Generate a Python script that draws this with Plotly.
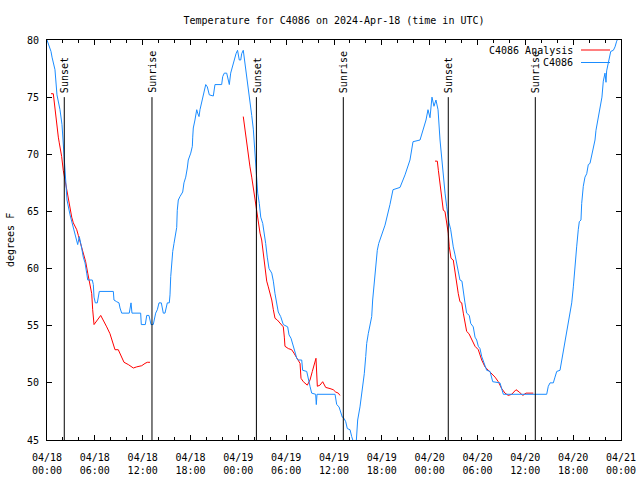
import pandas as pd
import plotly.graph_objects as go

# ---------------- data (hours after 2024-04-18 00:00 UTC, degrees F) ----------------
base_time = "2024-04-18 00:00"

obs_hours = [0.00, 0.25, 0.50, 0.63, 1.00, 1.25, 1.63, 1.88, 2.13, 2.38, 2.51, 2.89, 3.39, 3.85, 4.05, 4.14,
             4.35, 4.55, 4.77, 4.98, 5.11, 5.68, 5.81, 5.90, 6.06, 6.31, 6.49, 6.56, 8.32, 8.40, 8.74, 9.03,
             9.16, 9.37, 10.32, 10.41, 10.54, 10.66, 11.75, 11.83, 12.33, 12.51, 12.79, 12.92, 13.05, 13.33,
             13.46, 13.63, 13.84, 14.05, 14.34, 14.46, 14.59, 14.80, 15.01, 15.09, 15.34, 15.43, 15.52, 15.64,
             15.77, 15.93, 16.06, 16.27, 16.34, 16.47, 16.68, 17.02, 17.18, 17.40, 17.60, 17.72, 18.03, 18.23,
             18.28, 18.35, 18.56, 18.78, 18.90, 19.07, 19.19, 19.40, 19.61, 19.73, 19.91, 20.11, 20.36, 20.86,
             21.07, 21.91, 22.04, 22.24, 22.54, 22.74, 22.87, 23.04, 23.29, 23.46, 23.71, 23.90, 24.12, 24.30,
             24.42, 24.62, 24.75, 24.96, 25.13, 25.30, 25.46, 25.68, 25.88, 26.00, 26.13, 26.30, 26.43, 26.63,
             26.81, 27.06, 27.26, 27.43, 27.63, 27.85, 28.19, 28.39, 28.60, 28.81, 29.01, 29.31, 29.64, 30.19,
             30.36, 30.61, 30.82, 30.98, 31.15, 31.32, 31.52, 31.95, 32.07, 32.58, 32.78, 32.99, 33.20, 33.70,
             33.78, 33.87, 36.13, 36.34, 36.63, 36.84, 37.04, 37.25, 37.47, 37.67, 38.01, 38.22, 38.38, 38.63,
             38.76, 38.97, 39.26, 39.47, 39.68, 39.80, 39.98, 40.10, 40.30, 40.52, 40.73, 40.85, 41.02, 41.14,
             41.27, 41.43, 41.61, 42.40, 43.02, 43.40, 44.28, 44.91, 45.53, 45.91, 46.79, 47.16, 47.54, 47.79,
             48.04, 48.29, 48.54, 48.79, 49.05, 49.30, 49.51, 49.64, 49.80, 49.93, 50.14, 50.26, 50.43, 50.64,
             50.80, 50.96, 51.18, 51.39, 51.59, 51.80, 52.05, 52.22, 52.43, 52.64, 52.97, 53.15, 53.47, 53.69,
             53.90, 54.10, 54.31, 54.53, 54.73, 55.15, 55.57, 55.91, 56.82, 57.03, 57.24, 62.68, 62.88, 63.10,
             63.51, 63.72, 63.94, 64.35, 64.56, 64.76, 64.98, 65.19, 65.39, 65.60, 65.82, 66.02, 66.14, 66.32,
             66.44, 66.64, 66.77, 66.98, 67.07, 67.27, 67.48, 67.70, 67.90, 68.11, 68.32, 68.52, 68.74, 68.86,
             69.11, 69.36, 69.61, 69.78, 69.99, 70.12, 70.20, 70.41, 70.71, 71.04, 71.25, 71.46, 71.66]
obs_temp = [80.0, 79.5, 79.0, 78.5, 77.4, 75.2, 73.9, 72.6, 70.0, 68.2, 66.0, 64.7, 63.4, 62.1, 62.8, 62.4,
            61.8, 61.0, 60.5, 59.6, 59.0, 59.0, 58.6, 57.5, 57.0, 57.0, 57.8, 58.0, 58.0, 57.25, 57.1, 57.0,
            56.55, 56.1, 56.1, 56.7, 57.0, 56.1, 56.1, 55.1, 55.1, 55.9, 55.9, 55.5, 55.1, 55.1,
            55.6, 56.1, 56.4, 57.0, 57.0, 56.55, 56.1, 56.1, 56.7, 57.0, 57.0, 57.7, 59.3, 60.5,
            61.5, 62.2, 62.9, 63.6, 65.1, 66.0, 66.3, 66.7, 67.5, 68.0, 68.8, 69.5, 70.1, 70.7,
            71.5, 72.3, 73.0, 73.9, 73.6, 73.3, 73.9, 74.6, 75.3, 75.8, 76.1, 75.9, 75.2, 75.1,
            76.1, 76.1, 76.8, 77.1, 77.1, 76.5, 76.1, 77.1, 77.8, 78.1, 78.8, 79.1, 78.25, 78.25,
            78.8, 79.1, 78.4, 77.7, 76.8, 75.9, 74.75, 73.4, 72.2, 71.0, 69.4, 67.75, 66.6, 65.7,
            64.5, 63.95, 63.1, 62.2, 61.0, 60.0, 59.6, 58.9, 57.8, 57.0, 56.2, 55.8, 55.1, 54.9,
            54.2, 53.9, 53.45, 53.0, 52.6, 52.15, 52.0, 52.0, 51.1, 51.0, 50.25, 49.7, 49.1, 49.0,
            48.1, 49.0, 49.0, 48.1, 47.9, 47.3, 47.0, 46.9, 46.6, 46.0, 45.9, 45.3, 45.0, 44.4,
            44.5, 46.75, 47.9, 49.1, 49.8, 50.8, 52.3, 53.45, 54.3, 55.2, 55.8, 57.25, 58.7, 59.6,
            60.75, 61.6, 62.2, 63.8, 65.6, 66.9, 67.1, 68.2, 69.5, 71.1, 71.25, 72.1, 73.0, 73.9,
            73.2, 75.0, 74.2, 74.75, 73.9, 71.25, 69.5, 68.6, 67.75, 66.6, 65.4, 64.8, 64.0, 63.4,
            62.5, 61.9, 61.2, 60.5, 60.0, 59.0, 58.9, 57.8, 57.0, 56.1, 55.9, 55.2, 54.9, 54.0,
            53.75, 53.2, 53.0, 52.3, 51.9, 51.1, 51.0, 50.1, 50.0, 49.5, 49.0, 49.0, 49.7, 50.0,
            50.0, 50.5, 51.0, 51.1, 52.0, 52.7, 53.75, 54.6, 55.5, 56.1, 57.0, 58.4, 59.6, 60.75,
            61.9, 63.4, 64.1, 64.25, 65.7, 67.2, 68.0, 68.3, 69.1, 69.2, 69.8, 70.4, 71.25, 72.1,
            73.2, 73.9, 75.0, 76.4, 77.1, 76.3, 77.3, 78.0, 79.0, 79.1, 79.4, 79.9, 80.2]

ana_hours_1 = [0.50, 0.79, 0.88, 1.00, 1.13, 1.29, 1.42, 1.54, 1.72, 1.84, 2.04, 2.26, 2.47, 2.67, 2.89, 3.10,
               3.30, 3.73, 3.93, 4.14, 4.35, 4.55, 4.85, 5.11, 5.39, 5.61, 5.73, 5.81, 5.90, 6.74, 7.06, 7.49,
               7.90, 8.12, 8.32, 8.53, 8.94, 9.37, 9.66, 10.20, 10.83, 11.25, 11.88, 12.29, 12.58, 12.92]
ana_temp_1 = [75.3, 75.3, 74.75, 73.9, 73.3, 72.4, 71.5, 71.0, 70.4, 69.8, 68.6, 67.75, 66.9, 66.0, 65.1, 64.5,
              64.0, 63.4, 62.9, 62.35, 61.8, 61.2, 60.6, 59.6, 58.7, 57.8, 56.4, 55.1, 55.1, 55.9, 55.5, 54.9,
              54.3, 53.75, 53.2, 52.9, 52.9, 52.15, 51.8, 51.6, 51.3, 51.4, 51.5, 51.7, 51.8, 51.8]
ana_hours_2 = [24.62, 24.84, 25.05, 25.25, 25.46, 25.68, 25.88, 26.09, 26.30, 26.50, 26.72, 26.93, 27.13, 27.35,
               27.56, 27.76, 27.97, 28.19, 28.39, 28.60, 28.89, 29.23, 29.44, 29.64, 29.77, 29.85, 30.27, 30.69,
               30.98, 31.40, 31.74, 31.86, 32.15, 32.65, 32.99, 33.28, 33.62, 33.74, 33.91, 34.24, 34.58, 34.96,
               35.50, 35.91, 36.21, 36.54, 36.75]
ana_temp_2 = [73.3, 72.1, 71.0, 69.8, 68.9, 68.0, 67.0, 66.0, 65.1, 64.0, 63.1, 62.5, 61.3, 60.2,
              58.9, 58.4, 57.8, 57.25, 56.4, 55.65, 55.5, 55.2, 55.1, 54.9, 54.0, 53.2, 53.0, 52.9,
              52.6, 52.15, 51.7, 50.4, 50.1, 49.8, 50.25, 51.0, 51.7, 52.15, 49.7, 49.8, 50.1, 49.6,
              49.5, 49.4, 49.2, 49.1, 48.9]
ana_hours_3 = [48.67, 48.96, 49.09, 49.30, 49.51, 49.71, 49.92, 50.14, 50.33, 50.46, 50.68, 50.96, 51.18, 51.39,
               51.59, 51.80, 52.02, 52.22, 52.43, 52.64, 52.93, 53.27, 53.69, 54.10, 54.53, 54.94, 55.36, 55.78,
               56.20, 56.61, 57.03, 57.45, 57.86, 58.29, 58.83, 59.24, 59.67, 60.08, 61.00]
ana_temp_3 = [69.4, 69.4, 68.6, 67.5, 66.3, 65.1, 65.0, 64.1, 63.1, 61.9, 60.9, 60.75, 59.6, 58.6,
              57.8, 57.1, 57.0, 56.1, 55.2, 54.5, 54.3, 53.75, 53.2, 52.9, 52.0, 51.4, 51.1, 50.8,
              50.5, 50.1, 49.5, 49.1, 48.9, 49.0, 49.4, 49.2, 48.9, 49.1, 49.1]

sun_events = ["2024-04-18 02:10", "2024-04-18 13:10", "2024-04-19 02:16",
              "2024-04-19 13:10", "2024-04-20 02:20", "2024-04-20 13:15"]
sun_labels = ["Sunset", "Sunrise", "Sunset", "Sunrise", "Sunset", "Sunrise"]

tick_times = pd.date_range("2024-04-18 00:00", "2024-04-21 00:00", freq="6h")
tick_text = [t.strftime("%m/%d") + "<br>" + t.strftime("%H:%M") for t in tick_times]

# ---------------- figure ----------------
t0 = pd.Timestamp(base_time)


def to_times(hours):
    return [t0 + pd.Timedelta(hours=h) for h in hours]


ana_x = to_times(ana_hours_1) + [None] + to_times(ana_hours_2) + [None] + to_times(ana_hours_3)
ana_y = ana_temp_1 + [None] + ana_temp_2 + [None] + ana_temp_3

FONT = "DejaVu Sans Mono"
RED = "#ff0000"
BLUE = "#1a8cff"

fig = go.Figure()
fig.add_trace(go.Scatter(x=ana_x, y=ana_y, mode="lines", name="C4086 Analysis",
                         line=dict(color=RED, width=1), connectgaps=False, showlegend=False))
fig.add_trace(go.Scatter(x=to_times(obs_hours), y=obs_temp, mode="lines", name="C4086",
                         line=dict(color=BLUE, width=1), showlegend=False))

for t, lab in zip(sun_events, sun_labels):
    fig.add_shape(type="line", x0=t, x1=t, y0=45, y1=75, xref="x", yref="y",
                  line=dict(color="black", width=1), layer="above")
    fig.add_annotation(x=t, y=75.2, xref="x", yref="y", text=lab, textangle=-90,
                       showarrow=False, xanchor="center", yanchor="bottom", xshift=1,
                       font=dict(family=FONT, size=10, color="black"))

# plot area in pixels: x 47..621, y 40..440
L, R, T, B = 47, 621, 40, 440


def px_x(px):
    return (px - L) / (R - L)


def px_y(py):
    return (B - py) / (B - T)


legend_rows = [("C4086 Analysis", RED, 50), ("C4086", BLUE, 62.5)]
for text, col, py in legend_rows:
    fig.add_annotation(x=px_x(575), y=px_y(py), xref="paper", yref="paper", text=text,
                       showarrow=False, xanchor="right", yanchor="middle",
                       font=dict(family=FONT, size=10, color="black"))
    fig.add_shape(type="line", x0=px_x(581), x1=px_x(610), y0=px_y(py), y1=px_y(py),
                  xref="paper", yref="paper", line=dict(color=col, width=1))

fig.add_annotation(x=px_x(10), y=0.5, xref="paper", yref="paper", text="degrees F",
                   textangle=-90, showarrow=False, xanchor="center", yanchor="middle",
                   font=dict(family=FONT, size=10, color="black"))

fig.update_layout(
    width=640, height=480,
    margin=dict(l=L, r=640 - R, t=T, b=480 - B, autoexpand=False),
    paper_bgcolor="white", plot_bgcolor="white",
    title=dict(text="Temperature for C4086 on 2024-Apr-18 (time in UTC)",
               x=0.5, xref="paper", y=1 - 20 / 480, yref="container", yanchor="middle",
               automargin=False,
               font=dict(family=FONT, size=10, color="black")),
    font=dict(family=FONT, size=10, color="black"),
    xaxis=dict(type="date", range=["2024-04-18 00:00", "2024-04-21 00:00"],
               tickvals=list(tick_times), ticktext=tick_text, automargin=False,
               ticks="inside", ticklen=5, tickcolor="black", tickwidth=1,
               showline=True, linecolor="black", linewidth=1, mirror="ticks",
               showgrid=False, zeroline=False, tickangle=0, ticklabelstandoff=8,
               minor=dict(dtick=2 * 3600 * 1000, ticks="inside", ticklen=3,
                          tickcolor="black", showgrid=False),
               tickfont=dict(family=FONT, size=10, color="black")),
    yaxis=dict(range=[45, 80], dtick=5, tick0=45, automargin=False,
               ticks="inside", ticklen=5, tickcolor="black", tickwidth=1,
               showline=True, linecolor="black", linewidth=1, mirror="ticks",
               showgrid=False, zeroline=False, ticklabelstandoff=5,
               tickfont=dict(family=FONT, size=10, color="black")),
)

fig.write_html("out.html", config={"displayModeBar": False},
               post_script="document.body.style.margin='0px';document.body.style.overflow='hidden';")
